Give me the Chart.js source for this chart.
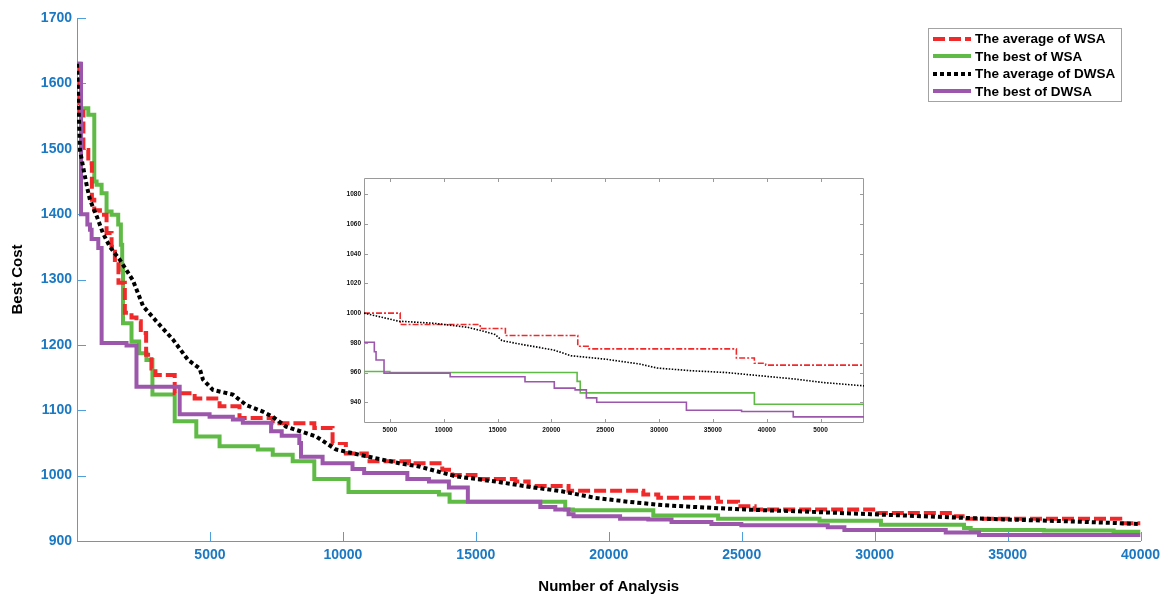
<!DOCTYPE html>
<html>
<head>
<meta charset="utf-8">
<script src="https://cdn.jsdelivr.net/npm/chart.js@4.4.1/dist/chart.umd.min.js"></script>
<style>
  html, body { margin: 0; padding: 0; background: #fff; }
  #wrap { position: relative; width: 1166px; height: 594px; }
  #mainChart { position: absolute; left: 0; top: 0; }
  #insetChart { position: absolute; left: 335px; top: 170px; background: #fff; }
  #legend {
    position: absolute; left: 928px; top: 28px; width: 194px; height: 74px;
    box-sizing: border-box; border: 1px solid #a3a3a3; background: #fff;
    padding: 1px 0 0 4px; font: bold 13.5px "Liberation Sans", Arial, sans-serif; color: #000;
  }
  .legend-row { display: flex; align-items: center; height: 17.5px; }
  .legend-row canvas { display: block; }
  .legend-row span { margin-left: 4px; white-space: nowrap; }
</style>
</head>
<body>
<div id="wrap">
  <canvas id="mainChart" width="1166" height="594"></canvas>
  <canvas id="insetChart" width="535" height="272"></canvas>
  <div id="legend"></div>
</div>
<script>
/* ── Data: main chart ── */
const seriesNames = ["The average of WSA", "The best of WSA", "The average of DWSA", "The best of DWSA"];
const xTickValues = [5000, 10000, 15000, 20000, 25000, 30000, 35000, 40000];
const yTickValues = [900, 1000, 1100, 1200, 1300, 1400, 1500, 1600, 1700];

const avgWsaX = [0, 100, 240, 425, 560, 650, 862, 1112, 1300, 1425, 1560, 1800, 2050, 2237, 2400, 2600, 2800, 2950, 3675, 4425, 5362, 6112, 7362, 8925, 9612, 10112, 10900, 12487, 13737, 14112, 14987, 16487, 16987, 18487, 21300, 21862, 24112, 24862, 25487, 30112, 32987, 33487, 39237, 40000];
const avgWsaY = [1630, 1557, 1498, 1478, 1422, 1406, 1399, 1371, 1350, 1330, 1295, 1249, 1242, 1236, 1218, 1185, 1164, 1154, 1126, 1118, 1106, 1088, 1080, 1073, 1050, 1034, 1022, 1019, 1009, 1001, 995, 991, 984, 977, 971, 966, 960, 953, 948, 943, 938, 934, 927, 927];

const bestWsaX = [0, 425, 650, 737, 925, 1112, 1300, 1550, 1650, 1700, 1730, 2050, 2337, 2612, 2837, 3675, 4487, 5362, 6800, 7362, 8112, 8925, 10212, 13612, 14012, 18362, 18650, 21675, 24112, 27925, 30237, 33362, 33612, 36362, 38987, 40000];
const bestWsaY = [1562, 1552, 1450, 1445, 1432, 1404, 1399, 1384, 1353, 1315, 1233, 1205, 1187, 1177, 1124, 1083, 1060, 1045, 1040, 1032, 1022, 995, 975, 971, 960, 948, 947, 939, 934, 931, 925, 920, 917, 916, 914, 914];

const avgDwsaX = [0, 49, 112, 225, 375, 487, 750, 975, 1237, 1612, 2100, 2487, 2987, 3612, 4175, 4612, 4737, 5112, 5862, 6362, 6987, 7362, 7862, 8987, 9737, 10612, 12112, 12862, 14237, 15737, 16987, 18237, 19487, 20737, 21987, 23237, 25237, 27362, 29862, 32362, 34862, 37362, 40000];
const avgDwsaY = [1630, 1575, 1498, 1473, 1442, 1422, 1396, 1371, 1350, 1330, 1299, 1259, 1236, 1208, 1177, 1164, 1147, 1131, 1124, 1108, 1098, 1090, 1075, 1060, 1040, 1032, 1019, 1014, 999, 991, 983, 976, 966, 960, 955, 952, 948, 945, 941, 937, 933, 930, 926];

const bestDwsaX = [0, 150, 390, 490, 550, 800, 926, 1862, 2237, 3862, 4987, 5862, 6237, 7300, 7700, 8362, 8425, 9237, 10362, 10800, 12424, 13237, 13987, 14700, 17426, 17989, 18487, 18675, 20426, 21487, 22361, 23861, 24986, 28237, 28862, 32674, 33926, 40000];
const bestDwsaY = [1630, 1400, 1384, 1376, 1362, 1348, 1203, 1199, 1136, 1094, 1090, 1086, 1081, 1068, 1061, 1050, 1029, 1019, 1010, 1004, 995, 991, 982, 960, 952, 948, 941, 938, 934, 933, 929, 926, 924, 921, 917, 913, 909, 909];

/* ── Data: inset ── */
const insetXTickValues = [5000, 10000, 15000, 20000, 25000, 30000, 35000, 40000, 45000];
const insetXTickLabels = ["5000", "10000", "15000", "20000", "25000", "30000", "35000", "40000", "5000"];
const insetYTickValues = [940, 960, 980, 1000, 1020, 1040, 1060, 1080];

const inAvgWsaX = [2600, 5960, 13390, 15730, 22450, 23410, 37180, 38850, 39900, 49030];
const inAvgWsaY = [1000, 992.3, 989.6, 984.9, 977.7, 975.9, 969.8, 966.2, 965, 965];
const inBestWsaX = [2600, 5000, 22390, 22680, 38850, 49030];
const inBestWsaY = [960.7, 960, 954, 946.3, 938.6, 938.6];
const inAvgDwsaX = [2600, 4200, 5800, 9000, 12200, 13800, 14770, 15410, 17330, 20210, 21810, 25010, 28220, 29820, 33020, 36220, 39420, 42620, 45190, 49030];
const inAvgDwsaY = [1000, 997.3, 994.6, 993.2, 990.5, 987.6, 985.6, 981.5, 978.8, 975.2, 971.3, 969, 965.7, 963, 961.2, 960, 957.8, 955.6, 953.3, 951];
const inBestDwsaX = [2600, 3560, 3720, 4460, 10600, 17550, 20270, 22200, 23250, 24210, 32540, 37660, 42460, 49030];
const inBestDwsaY = [980.4, 974, 968.4, 959.6, 957.1, 953.8, 949.5, 948.3, 942.9, 940, 934.6, 933.7, 930.1, 930.1];

/* ── Styles ── */
const FONT = "'Liberation Sans', Arial, Helvetica, sans-serif";
const RED = "#f0292b", GREEN = "#5fbb46", BLACK = "#000000", PURPLE = "#9c57ac";
const AXIS_BLUE = "#4f9fdc", LABEL_BLUE = "#1b79c3";
const styles = [
  { color: RED, dash: [12, 4], stepped: true, order: 2, insetDash: [6, 2, 2, 2] },
  { color: GREEN, dash: [], stepped: true, order: 3, insetDash: [] },
  { color: BLACK, dash: [4, 3], stepped: false, order: 0, insetDash: [1.5, 1.5] },
  { color: PURPLE, dash: [], stepped: true, order: 1, insetDash: [] },
];

const toPoints = (xs, ys) => xs.map((x, i) => ({ x, y: ys[i] }));

/* inward tick marks (+ optional full box) */
const innerTicks = {
  id: "innerTicks",
  beforeDatasetsDraw(chart, args, opts) {
    const { ctx, chartArea: a, scales: { x, y } } = chart;
    const len = opts.length;
    ctx.save();
    ctx.strokeStyle = opts.color;
    ctx.lineWidth = 1;
    ctx.beginPath();
    x.ticks.forEach((t) => {
      const px = Math.round(x.getPixelForValue(t.value)) + 0.5;
      ctx.moveTo(px, a.bottom); ctx.lineTo(px, a.bottom - len);
      if (opts.box) { ctx.moveTo(px, a.top); ctx.lineTo(px, a.top + len); }
    });
    y.ticks.forEach((t) => {
      const py = Math.round(y.getPixelForValue(t.value)) + 0.5;
      ctx.moveTo(a.left, py); ctx.lineTo(a.left + len, py);
      if (opts.box) { ctx.moveTo(a.right, py); ctx.lineTo(a.right - len, py); }
    });
    if (opts.box) ctx.rect(a.left + 0.5, a.top + 0.5, a.width - 1, a.height - 1);
    ctx.stroke();
    ctx.restore();
  },
};

/* ── Main chart ── */
const mainSets = [
  [avgWsaX, avgWsaY], [bestWsaX, bestWsaY], [avgDwsaX, avgDwsaY], [bestDwsaX, bestDwsaY],
].map(([xs, ys], i) => ({
  label: seriesNames[i],
  data: toPoints(xs, ys),
  borderColor: styles[i].color,
  backgroundColor: styles[i].color,
  borderWidth: 4,
  borderDash: styles[i].dash,
  borderCapStyle: "butt",
  stepped: styles[i].stepped,
  order: styles[i].order,
  pointRadius: 0,
  tension: 0,
  fill: false,
}));

new Chart(document.getElementById("mainChart"), {
  type: "line",
  data: { datasets: mainSets },
  plugins: [innerTicks],
  options: {
    responsive: false,
    animation: false,
    devicePixelRatio: 1,
    layout: { padding: { top: 18, right: 23, left: 0, bottom: 0 } },
    plugins: {
      legend: { display: false },
      tooltip: { enabled: false },
      innerTicks: { color: AXIS_BLUE, length: 9, box: false },
    },
    scales: {
      x: {
        type: "linear",
        min: 0,
        max: 40000,
        afterBuildTicks: (s) => { s.ticks = xTickValues.map((v) => ({ value: v })); },
        afterFit: (s) => { s.height = 53; },
        grid: { display: false, drawTicks: false },
        border: { display: true, color: AXIS_BLUE, width: 1 },
        ticks: {
          autoSkip: false, maxRotation: 0, padding: 6, color: LABEL_BLUE,
          font: { family: FONT, size: 14, weight: "bold" },
          callback: (v) => String(v),
        },
        title: {
          display: true, text: "Number of Analysis", color: "#000",
          font: { family: FONT, size: 15, weight: "bold", lineHeight: 1 },
          padding: { top: 0, bottom: 0 },
        },
      },
      y: {
        type: "linear",
        min: 900,
        max: 1700,
        afterBuildTicks: (s) => { s.ticks = yTickValues.map((v) => ({ value: v })); },
        afterFit: (s) => { s.width = 77; },
        grid: { display: false, drawTicks: false },
        border: { display: true, color: AXIS_BLUE, width: 1 },
        ticks: {
          autoSkip: false, padding: 5, color: LABEL_BLUE,
          font: { family: FONT, size: 14, weight: "bold" },
          callback: (v) => String(v),
        },
        title: {
          display: true, text: "Best Cost", color: "#000",
          font: { family: FONT, size: 15, weight: "bold", lineHeight: 1 },
          padding: { top: 10, bottom: 0 },
        },
      },
    },
  },
});

/* ── Inset chart ── */
const insetSets = [
  [inAvgWsaX, inAvgWsaY], [inBestWsaX, inBestWsaY], [inAvgDwsaX, inAvgDwsaY], [inBestDwsaX, inBestDwsaY],
].map(([xs, ys], i) => ({
  label: seriesNames[i],
  data: toPoints(xs, ys),
  borderColor: styles[i].color,
  borderWidth: 1.6,
  borderDash: styles[i].insetDash,
  borderCapStyle: "butt",
  stepped: styles[i].stepped,
  order: styles[i].order,
  pointRadius: 0,
  tension: 0,
  fill: false,
}));

const insetTickFont = { family: FONT, size: 6.5, weight: "bold" };

new Chart(document.getElementById("insetChart"), {
  type: "line",
  data: { datasets: insetSets },
  plugins: [innerTicks],
  options: {
    responsive: false,
    animation: false,
    devicePixelRatio: 1,
    layout: { padding: { top: 8, right: 6, left: 0, bottom: 0 } },
    plugins: {
      legend: { display: false },
      tooltip: { enabled: false },
      innerTicks: { color: "#9a9a9a", length: 4, box: true },
    },
    scales: {
      x: {
        type: "linear",
        min: 2600,
        max: 49030,
        afterBuildTicks: (s) => { s.ticks = insetXTickValues.map((v) => ({ value: v })); },
        afterFit: (s) => { s.height = 19; },
        grid: { display: false, drawTicks: false },
        border: { display: false },
        ticks: {
          autoSkip: false, maxRotation: 0, padding: 3, color: "#111",
          font: insetTickFont,
          callback: (v, i) => insetXTickLabels[i],
        },
      },
      y: {
        type: "linear",
        min: 926,
        max: 1091,
        afterBuildTicks: (s) => { s.ticks = insetYTickValues.map((v) => ({ value: v })); },
        afterFit: (s) => { s.width = 29; },
        grid: { display: false, drawTicks: false },
        border: { display: false },
        ticks: {
          autoSkip: false, padding: 3, color: "#111",
          font: insetTickFont,
          callback: (v) => String(v),
        },
      },
    },
  },
});

/* ── Legend (HTML, inside plot, top right) ── */
(function renderLegend() {
  const legend = document.getElementById("legend");
  seriesNames.forEach((name, i) => {
    const row = document.createElement("div");
    row.className = "legend-row";
    const c = document.createElement("canvas");
    c.width = 38; c.height = 8;
    const ctx = c.getContext("2d");
    ctx.strokeStyle = styles[i].color;
    ctx.lineWidth = 4;
    ctx.setLineDash(styles[i].dash);
    ctx.beginPath(); ctx.moveTo(0, 4); ctx.lineTo(38, 4); ctx.stroke();
    const span = document.createElement("span");
    span.textContent = name;
    row.appendChild(c);
    row.appendChild(span);
    legend.appendChild(row);
  });
})();
</script>
</body>
</html>
